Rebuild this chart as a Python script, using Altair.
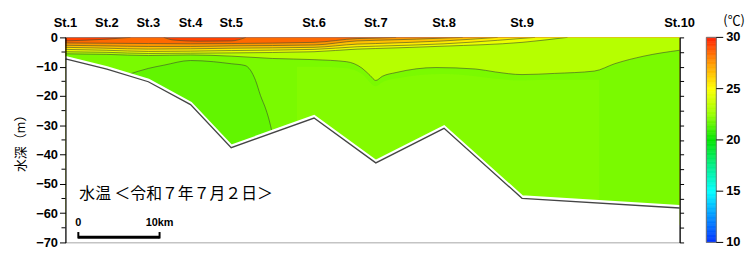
import altair as alt
import pandas as pd
import numpy as np

# ---------------- data ----------------
ST_NAMES = ["St.1", "St.2", "St.3", "St.4", "St.5", "St.6", "St.7", "St.8", "St.9", "St.10"]
ST_KM = [0, 5.1, 10.2, 15.4, 20.4, 30.6, 38.2, 46.6, 56.2, 75.6]
SEAFLOOR_M = [-6.9, -10.4, -14.7, -22.5, -37.2, -27.1, -42.4, -30.6, -54.5, -57.8]

# isotherm depths (m) along the section (km)
ISO29_KM = [0, 5.1, 8.0, 12.1, 13.3, 16.3, 20.4, 22.2, 75.6]
ISO29_M = [-1.2, -0.6, 0, 0, -0.9, -1.3, -1.2, 0, 0]
ISO28_KM = [0, 5.1, 10.2, 15.4, 20.4, 30.6, 35.9, 38.2, 40.7, 75.6]
ISO28_M = [-1.9, -2.0, -2.1, -2.2, -2.1, -1.7, -0.4, -0.25, 0, 0]
ISO27_KM = [0, 5.1, 10.2, 15.4, 20.4, 30.6, 35.9, 38.2, 43.2, 48.9, 75.6]
ISO27_M = [-2.7, -2.9, -3.1, -3.1, -2.9, -2.6, -1.2, -1.0, -0.6, 0, 0]
ISO26_KM = [0, 5.1, 10.2, 15.4, 20.4, 30.6, 35.9, 38.2, 46.6, 53.2, 75.6]
ISO26_M = [-3.4, -3.7, -4.0, -3.9, -3.7, -3.4, -2.3, -2.1, -1.2, 0, 0]
ISO25_KM = [0, 5.1, 10.2, 15.4, 20.4, 30.6, 35.9, 38.2, 46.6, 53.2, 57.8, 75.6]
ISO25_M = [-4.1, -4.4, -4.8, -4.7, -4.5, -4.1, -3.2, -3.0, -2.2, -1.0, 0, 0]
ISO24_KM = [0, 5.1, 10.2, 15.4, 20.4, 30.6, 35.9, 38.2, 46.6, 56.2, 61.8, 75.6]
ISO24_M = [-4.9, -5.1, -5.5, -5.4, -5.3, -4.9, -4.0, -3.8, -3.0, -1.7, 0, 0]
ISO23_KM = [0, 5.1, 10.2, 15.4, 20.4, 25.5, 30.6, 34.6, 36.5, 37.5, 38.2, 39.0, 40.7, 45.6,
            50.5, 52.9, 56.2, 60.2, 65.1, 67.6, 71.2, 75.6]
ISO23_M = [-5.6, -5.8, -6.2, -6.0, -6.4, -7.2, -7.6, -8.3, -10.5, -13.0, -14.7, -13.3, -12.0, -10.3,
           -10.8, -11.8, -12.7, -12.3, -11.5, -9.0, -6.4, -4.4]
ISO22_KM = [7.8, 10.2, 12.1, 15.4, 18.2, 20.4, 22.1, 23.4, 24.0, 24.7, 25.1, 25.4]
ISO22_M = [-12.6, -10.6, -9.5, -7.9, -8.3, -9.0, -9.6, -14.7, -19.8, -24.8, -28.5, -32.0]
# slightly warmer patch inside the 22-23 band (no contour line)
WARM_KM = [28.5, 30.6, 34.6, 36.5, 38.2, 39.0, 40.7, 46.6, 56.2, 60.2, 65.7]
WARM_M = [-10, -10, -10.5, -12.5, -16.7, -15.3, -14.0, -12.5, -14.7, -14.5, -14.5]

# colour of each band (deg C): above29, 28-29, 27-28, 26-27, 25-26, 24-25, 23-24, 22-23, warm patch, below22
BAND_T = [29.3, 28.5, 27.5, 26.5, 25.5, 24.5, 23.2, 22.0, 22.15, 21.6]

# colour bar
CBAR_T = [10, 12.5, 15, 17.5, 20, 22.5, 25, 27.5, 30]
CBAR_C = ["#0030ff", "#0090ff", "#00ffff", "#00ee88", "#00e400", "#99ff00",
          "#ffff00", "#ff9900", "#ff2000"]
CBAR_TICKS = [10, 15, 20, 25, 30]

DEPTH_MAJOR = [0, -10, -20, -30, -40, -50, -60, -70]
DEPTH_MINOR = [-5, -15, -25, -35, -45, -55, -65]

TITLE = "水温 ＜令和７年７月２日＞"
Y_TITLE = "水深（m）"
UNIT = "(℃)"

# ---------------- chart ----------------
xs = alt.Scale(domain=[0, 75.6], nice=False, zero=False)
ys = alt.Scale(domain=[-70, 0], nice=False, zero=False)
cs = alt.Scale(domain=CBAR_T, range=CBAR_C, interpolate="rgb", clamp=True)
COL = alt.Color("t:Q", scale=cs, legend=None)
# colour-bar values are placed on the depth axis: 10 degC -> -70, 30 degC -> 0
T2D = "(datum.t - 30) * 3.5"


def X():
    return alt.X("x:Q", scale=xs, axis=None)


def Y(field="d", axis=None):
    return alt.Y(f"{field}:Q", scale=ys, axis=axis)


def band(kx, kd, t):
    df = pd.DataFrame({"x": kx, "d": kd, "t": t})
    return alt.Chart(df).mark_area(interpolate="monotone", clip=True).encode(
        x=X(), y=Y(), y2=alt.datum(-64), color=COL)


layers = []
layers.append(band(ST_KM, [0] * len(ST_KM), BAND_T[0]))
ISOS = [(29, ISO29_KM, ISO29_M), (28, ISO28_KM, ISO28_M), (27, ISO27_KM, ISO27_M),
        (26, ISO26_KM, ISO26_M), (25, ISO25_KM, ISO25_M), (24, ISO24_KM, ISO24_M),
        (23, ISO23_KM, ISO23_M)]
for i, (T, kx, kd) in enumerate(ISOS):
    layers.append(band(kx, kd, BAND_T[i + 1]))
layers.append(band(WARM_KM, WARM_M, BAND_T[8]))
layers.append(band(ISO22_KM, ISO22_M, BAND_T[9]))

# contour lines
rows = []
for T, kx, kd in ISOS + [(22, ISO22_KM, ISO22_M)]:
    seg = 0
    prev_keep = False
    n = len(kx)
    for i in range(n):
        keep = kd[i] < 0 or (i > 0 and kd[i - 1] < 0) or (i < n - 1 and kd[i + 1] < 0)
        if keep:
            if (not prev_keep) or (kd[i] == 0 and i > 0 and kd[i - 1] == 0):
                seg += 1
            rows.append({"x": kx[i], "d": kd[i], "k": f"{T}-{seg}"})
        prev_keep = keep
lines_df = pd.DataFrame(rows)
layers.append(alt.Chart(lines_df).mark_line(
    interpolate="monotone", color="#3d4a2e", strokeWidth=0.8, opacity=0.75, clip=True
).encode(x=X(), y=Y(), detail="k:N"))

# sea bed
sea_df = pd.DataFrame({"x": ST_KM, "d": SEAFLOOR_M})
y_left = alt.Axis(
    orient="left", values=DEPTH_MAJOR,
    tickSize=6, tickColor="#000", domainColor="#000", domainWidth=1.2,
    labelFont="Liberation Sans", labelFontSize=13, labelFontWeight="bold", labelColor="#000",
    labelPadding=2,
    title=Y_TITLE, titleFont="Noto Sans CJK JP", titleFontSize=13, titleFontWeight="normal",
    titleColor="#000", titlePadding=8, grid=False, zindex=1)
x_bottom = alt.Axis(orient="bottom", labels=False, ticks=False, domain=True,
                    domainColor="#000", domainWidth=1.2, title=None, grid=False, zindex=1)
layers.append(alt.Chart(sea_df).mark_area(color="white").encode(
    x=alt.X("x:Q", scale=xs, axis=x_bottom), y=Y(axis=y_left), y2=alt.datum(-70)))
layers.append(alt.Chart(sea_df).mark_line(color="white", strokeWidth=3.5).encode(
    x=X(), y=Y()))
y_right = alt.Axis(orient="right", values=DEPTH_MAJOR + DEPTH_MINOR, labels=False,
                   tickSize=4, tickColor="#000", domainColor="#000", domainWidth=1.2,
                   title=None, grid=False, zindex=1)
layers.append(alt.Chart(sea_df).mark_line(color="#444", strokeWidth=1.3, yOffset=1.3).encode(
    x=X(), y=Y(axis=y_right)))

# minor ticks on the left axis
minor_df = pd.DataFrame({"d": DEPTH_MINOR})
layers.append(alt.Chart(minor_df).mark_rule(color="#000", strokeWidth=1).encode(
    x=alt.value(-4), x2=alt.value(0), y=Y()))

# station labels
st_df = pd.DataFrame({"x": ST_KM, "name": ST_NAMES})
layers.append(alt.Chart(st_df).mark_text(
    font="Liberation Sans", fontSize=13, fontWeight="bold", color="#000",
    baseline="middle", align="center"
).encode(x=X(), y=alt.value(-14), text="name:N"))

one = pd.DataFrame({"a": [0]})
layers.append(alt.Chart(one).mark_text(
    font="Noto Sans CJK JP", fontSize=16, color="#000", align="left", baseline="middle"
).encode(x=alt.value(14), y=alt.value(158.5), text=alt.value(TITLE)))

# scale bar
layers.append(alt.Chart(one).mark_rule(color="#000", strokeWidth=3).encode(
    x=alt.value(13), x2=alt.value(95), y=alt.value(201.8)))
layers.append(alt.Chart(one).mark_rule(color="#000", strokeWidth=2).encode(
    x=alt.value(13), y=alt.value(196.5), y2=alt.value(203)))
layers.append(alt.Chart(one).mark_rule(color="#000", strokeWidth=2).encode(
    x=alt.value(95), y=alt.value(196.5), y2=alt.value(203)))
layers.append(alt.Chart(one).mark_text(
    font="Liberation Sans", fontSize=11, fontWeight="bold", color="#000", baseline="middle"
).encode(x=alt.value(13), y=alt.value(187.5), text=alt.value("0")))
layers.append(alt.Chart(one).mark_text(
    font="Liberation Sans", fontSize=11, fontWeight="bold", color="#000", baseline="middle"
).encode(x=alt.value(95), y=alt.value(187.5), text=alt.value("10km")))

# colour bar (drawn from the colour scale itself)
edges = np.linspace(CBAR_T[0], CBAR_T[-1], 161)
cb_df = pd.DataFrame({"t0": edges[:-1], "t1": edges[1:]})
cb_df["t"] = (cb_df["t0"] + cb_df["t1"]) / 2
layers.append(alt.Chart(cb_df).transform_calculate(
    d0="(datum.t0 - 30) * 3.5", d1="(datum.t1 - 30) * 3.5"
).mark_rect(strokeWidth=0.6).encode(
    x=alt.value(647), x2=alt.value(657), y=Y("d0"), y2=alt.Y2("d1:Q"),
    color=COL, stroke=alt.Stroke("t:Q", scale=cs, legend=None)))
cb_box = pd.DataFrame({"t0": [CBAR_T[0]], "t1": [CBAR_T[-1]]})
layers.append(alt.Chart(cb_box).transform_calculate(
    d0="(datum.t0 - 30) * 3.5", d1="(datum.t1 - 30) * 3.5"
).mark_rect(fillOpacity=0, stroke="#777", strokeWidth=1).encode(
    x=alt.value(647), x2=alt.value(657), y=Y("d0"), y2=alt.Y2("d1:Q")))
tick_df = pd.DataFrame({"t": CBAR_TICKS})
layers.append(alt.Chart(tick_df).transform_calculate(d=T2D).mark_rule(
    color="#000", strokeWidth=1).encode(x=alt.value(657), x2=alt.value(664), y=Y("d")))
layers.append(alt.Chart(tick_df).transform_calculate(d=T2D).mark_text(
    font="Liberation Sans", fontSize=13, fontWeight="bold", color="#000",
    align="left", baseline="middle").encode(x=alt.value(667), y=Y("d"), text="t:Q"))
layers.append(alt.Chart(one).mark_text(
    font="Noto Sans CJK JP", fontSize=13, color="#000", align="center", baseline="middle"
).encode(x=alt.value(675), y=alt.value(-16.5), text=alt.value(UNIT)))

chart = alt.layer(*layers).properties(
    width=620, height=207,
    padding={"left": 58, "top": 28.5, "right": 68, "bottom": 9},
    autosize=alt.AutoSizeParams(type="none"),
).configure_view(stroke="#888", strokeWidth=1.3)

chart.save("out.html", embed_options={"renderer": "svg", "actions": False})
